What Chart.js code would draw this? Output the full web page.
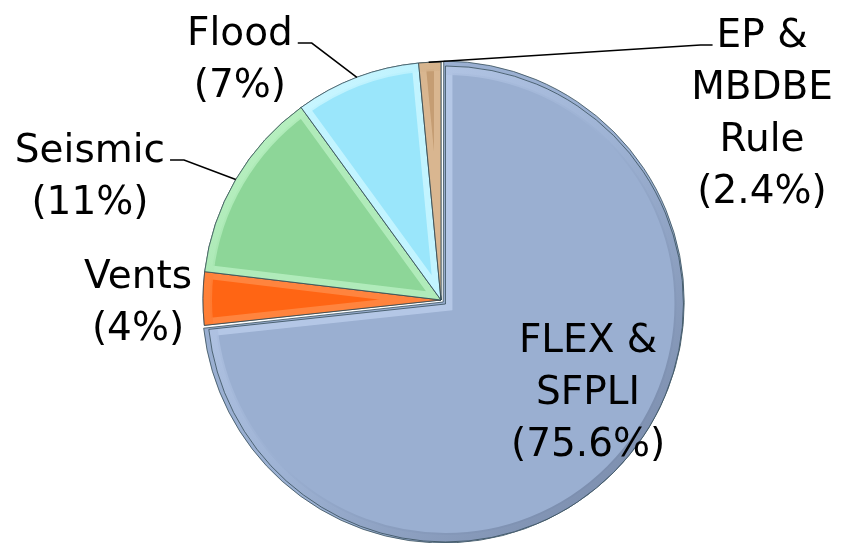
<!DOCTYPE html>
<html>
<head>
<meta charset="utf-8">
<script src="https://cdn.jsdelivr.net/npm/chart.js@4.4.1/dist/chart.umd.min.js"></script>
<style>
  html, body { margin: 0; padding: 0; background: #fff; }
  #wrap { width: 844px; height: 543px; position: relative; }
</style>
</head>
<body>
<div id="wrap"><canvas id="chart"></canvas></div>
<script>
// ---------------- DATA ----------------
const categories = ['FLEX & SFPLI', 'Vents', 'Seismic', 'Flood', 'EP & MBDBE Rule'];
// slice sizes as drawn in the picture (the printed percentages below differ a bit)
const shares = [73.3, 3.6, 13.1, 8.5, 1.5];
const pctLabels = ['(75.6%)', '(4%)', '(11%)', '(7%)', '(2.4%)'];
const nameLines = [['FLEX &', 'SFPLI'], ['Vents'], ['Seismic'], ['Flood'], ['EP &', 'MBDBE', 'Rule']];

// ---------------- STYLE ----------------
const fills = ['#9aafd1', '#ff6514', '#8dd698', '#9ae6fb', '#c59d73'];
const lights = ['#b9cbea', '#ff8a45', '#b6efbf', '#c9f6ff', '#dcbb95'];
const darks = ['#7688a8', '#c94a12', '#6fae79', '#72bcd4', '#8f7050'];

// label anchor (centre of first baseline) in units of the radius, from the pie centre
const labelPos = [
  { dx: 0.618, dy: 0.218 },
  { dx: -1.273, dy: -0.05 },
  { dx: -1.475, dy: -0.58 },
  { dx: -0.845, dy: -1.071 },
  { dx: 1.349, dy: -1.063 }
];
// leader lines: side of first text line and where on the slice rim they land
const leaders = [null, null, { side: 'right', frac: 0.5 }, { side: 'right', frac: 0.5 }, { side: 'left', frac: 0.45 }];

const FONT = '39px "DejaVu Sans"';
const LINE_H = 52;

function arcCentre(arc) {
  const p = arc.getProps(['x', 'y', 'startAngle', 'endAngle', 'outerRadius', 'circumference'], true);
  const offset = (arc.options.offset || 0) / 4;
  const fix = 1 - Math.sin(Math.min(Math.PI, p.circumference || 0));
  const mid = (p.startAngle + p.endAngle) / 2;
  const d = offset + offset * fix;
  return { cx: p.x + Math.cos(mid) * d, cy: p.y + Math.sin(mid) * d, ...p };
}

// bevel look of the slices
const bevelPlugin = {
  id: 'bevel',
  afterDatasetsDraw(chart) {
    const ctx = chart.ctx;
    chart.getDatasetMeta(0).data.forEach((arc, i) => {
      const a = arcCentre(arc);
      const r = a.outerRadius;
      const slice = () => {
        ctx.beginPath();
        ctx.moveTo(a.cx, a.cy);
        ctx.arc(a.cx, a.cy, r, a.startAngle, a.endAngle);
        ctx.closePath();
      };
      ctx.save();
      slice();
      ctx.clip();
      ctx.globalAlpha = 0.85;
      ctx.lineJoin = 'miter';
      ctx.strokeStyle = lights[i];
      ctx.lineWidth = 14;
      slice();
      ctx.stroke();
      const g = ctx.createLinearGradient(a.cx - r * 0.7, a.cy - r * 0.7, a.cx + r * 0.7, a.cy + r * 0.7);
      g.addColorStop(0, lights[i]);
      g.addColorStop(0.5, fills[i]);
      g.addColorStop(1, darks[i]);
      ctx.strokeStyle = g;
      ctx.lineWidth = 18;
      ctx.beginPath();
      ctx.arc(a.cx, a.cy, r, a.startAngle, a.endAngle);
      ctx.stroke();
      ctx.restore();

      ctx.save();
      ctx.strokeStyle = 'rgba(45,70,80,0.75)';
      ctx.lineWidth = 1;
      slice();
      ctx.stroke();
      ctx.restore();
    });
  }
};

// text labels with leader lines
const labelPlugin = {
  id: 'labels',
  afterDraw(chart) {
    const ctx = chart.ctx;
    const meta = chart.getDatasetMeta(0);
    ctx.save();
    ctx.font = FONT;
    ctx.fillStyle = '#000';
    ctx.textAlign = 'center';
    ctx.textBaseline = 'alphabetic';
    meta.data.forEach((arc, i) => {
      const p = arc.getProps(['x', 'y', 'startAngle', 'endAngle', 'outerRadius'], true);
      const r = p.outerRadius;
      const ax = p.x + labelPos[i].dx * r;
      const ay = p.y + labelPos[i].dy * r;
      const lines = nameLines[i].concat(pctLabels[i]);
      lines.forEach((t, k) => ctx.fillText(t, ax, ay + k * LINE_H));

      const ld = leaders[i];
      if (ld) {
        const w = ctx.measureText(lines[0]).width;
        const ang = p.startAngle + ld.frac * (p.endAngle - p.startAngle);
        const ex = p.x + Math.cos(ang) * r;
        const ey = p.y + Math.sin(ang) * r;
        const sx = ld.side === 'right' ? ax + w / 2 + 5 : ax - w / 2 - 4;
        const kx = ld.side === 'right' ? sx + 14 : sx - 12;
        const sy = ay - 2;
        ctx.beginPath();
        ctx.moveTo(sx, sy);
        ctx.lineTo(kx, sy);
        ctx.lineTo(ex, ey);
        ctx.strokeStyle = '#000';
        ctx.lineWidth = 1.5;
        ctx.stroke();
      }
    });
    ctx.restore();
  }
};

// ---------------- CHART ----------------
const chart = new Chart(document.getElementById('chart'), {
  type: 'pie',
  data: {
    labels: categories,
    datasets: [{
      data: shares,
      backgroundColor: fills,
      borderColor: 'rgba(45,70,80,0.75)',
      borderWidth: 1,
      offset: [12, 0, 0, 0, 0]
    }]
  },
  options: {
    responsive: true,
    maintainAspectRatio: false,
    animation: false,
    radius: 238,
    layout: { padding: { left: 38, top: 57, right: 0, bottom: 0 } },
    plugins: {
      legend: { display: false },
      tooltip: { enabled: false }
    }
  },
  plugins: [bevelPlugin, labelPlugin]
});
</script>
</body>
</html>
